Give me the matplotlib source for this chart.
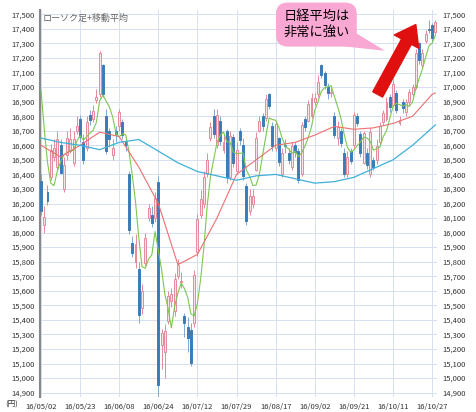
import numpy as np
import matplotlib.pyplot as plt
from matplotlib.patches import Rectangle, Polygon

plt.rcParams['font.family'] = ['Noto Sans CJK JP', 'DejaVu Sans']

tick_labels = ['16/05/02', '16/05/23', '16/06/08', '16/06/24', '16/07/12', '16/07/29',
               '16/08/17', '16/09/02', '16/09/21', '16/10/11', '16/10/27']

prior_close = [17440, 17353, 17290, 16666]

opens = [16357, 16050, 16280, 16380, 16520, 16450, 16600, 16300, 16530, 16560,
         16480, 16700, 16780, 16620, 16580, 16810, 16780, 16910, 16950, 17150,
         16800, 16700, 16530, 16700, 16730, 16760, 16620, 16400, 15930, 15800,
         15750, 15480, 15790, 16100, 16120, 16100, 16350, 15230, 15180, 15390,
         15530, 15460, 15700, 15660, 15430, 15350, 15330, 15380, 15870, 16120,
         16200, 16400, 16650, 16800, 16600, 16770, 16570, 16700, 16380, 16660,
         16420, 16700, 16600, 16320, 16150, 16200, 16430, 16700, 16800, 16790,
         16950, 16730, 16580, 16650, 16400, 16600, 16550, 16450, 16600, 16560,
         16400, 16780, 16770, 16800, 16900, 16950, 17150, 17100, 17000, 16960,
         16800, 16650, 16700, 16550, 16400, 16560, 16600, 16800, 16680, 16480,
         16550, 16400, 16500, 16500, 16620, 16760, 16780, 16930, 16880, 16960,
         16750, 16900, 16830, 16900, 16950, 17000, 17300, 17150, 17320, 17400,
         17430, 17380]
closes = [16147, 16106, 16216, 16565, 16579, 16646, 16412, 16466, 16652, 16644,
          16646, 16736, 16654, 16498, 16757, 16772, 16834, 16931, 17234, 16955,
          16562, 16642, 16580, 16675, 16830, 16668, 16601, 16019, 15859, 15919,
          15434, 15599, 15965, 16169, 16065, 16238, 14952, 15309, 15323, 15566,
          15575, 15682, 15775, 15669, 15378, 15276, 15106, 15708, 16095, 16231,
          16385, 16497, 16723, 16681, 16810, 16627, 16620, 16383, 16664, 16476,
          16569, 16635, 16391, 16083, 16254, 16254, 16650, 16764, 16735, 16919,
          16869, 16596, 16745, 16486, 16545, 16598, 16497, 16597, 16555, 16360,
          16737, 16725, 16887, 16926, 16925, 17037, 17081, 17012, 16958, 16965,
          16672, 16729, 16614, 16405, 16519, 16492, 16807, 16754, 16544, 16683,
          16465, 16693, 16449, 16598, 16735, 16819, 16899, 16860, 17024, 16840,
          16774, 16856, 16900, 16963, 16998, 17235, 17184, 17234, 17365, 17391,
          17336, 17446]
highs = [16400, 16180, 16330, 16610, 16640, 16700, 16640, 16520, 16700, 16720,
         16700, 16800, 16810, 16680, 16800, 16840, 16880, 16990, 17250, 17160,
         16850, 16720, 16640, 16730, 16850, 16780, 16660, 16420, 15980, 15990,
         15800, 15650, 16000, 16200, 16180, 16280, 16390, 15340, 15370, 15600,
         15620, 15720, 15820, 15730, 15450, 15420, 15380, 15740, 16130, 16290,
         16420, 16550, 16760, 16850, 16850, 16800, 16680, 16710, 16700, 16680,
         16620, 16720, 16650, 16340, 16300, 16300, 16690, 16800, 16820, 16950,
         16960, 16760, 16770, 16660, 16580, 16640, 16580, 16620, 16620, 16580,
         16760, 16800, 16910, 16960, 16960, 17080, 17160, 17110, 17030, 17000,
         16830, 16770, 16720, 16580, 16560, 16580, 16830, 16820, 16700, 16700,
         16580, 16720, 16520, 16640, 16760, 16840, 16930, 16950, 17050, 16980,
         16800, 16920, 16920, 16990, 17020, 17260, 17310, 17260, 17390, 17460,
         17440, 17460]
lows = [16120, 16000, 16190, 16360, 16490, 16420, 16400, 16280, 16500, 16550,
        16460, 16680, 16620, 16470, 16560, 16740, 16760, 16890, 16930, 16930,
        16540, 16590, 16500, 16620, 16700, 16640, 16560, 15990, 15830, 15760,
        15380, 15440, 15770, 16080, 16040, 16070, 14864, 15060, 15000, 15370,
        15490, 15430, 15680, 15620, 15280, 15180, 15080, 15350, 15840, 16100,
        16170, 16380, 16630, 16650, 16580, 16600, 16550, 16340, 16360, 16450,
        16400, 16600, 16360, 16050, 16120, 16170, 16420, 16690, 16700, 16770,
        16850, 16560, 16560, 16460, 16380, 16550, 16470, 16430, 16520, 16340,
        16390, 16700, 16760, 16790, 16880, 16930, 17060, 16990, 16920, 16930,
        16650, 16600, 16590, 16380, 16380, 16470, 16580, 16730, 16520, 16470,
        16440, 16380, 16430, 16470, 16600, 16740, 16770, 16830, 16860, 16820,
        16740, 16820, 16800, 16880, 16940, 16990, 17160, 17130, 17300, 17370,
        17310, 17360]

# 25-day (red) and 75-day (blue) averages read every 6 sessions
ma_idx = [0, 6, 12, 18, 24, 30, 36, 42, 48, 54, 60, 66, 72, 78, 84, 90, 96, 102, 108, 114, 120, 121]
ma25 = [16600, 16520, 16600, 16690, 16660, 16450, 16200, 15780, 15850, 16100, 16400,
        16500, 16600, 16620, 16670, 16730, 16710, 16720, 16750, 16800, 16950, 16960]
ma75 = [16650, 16620, 16600, 16570, 16620, 16640, 16560, 16480, 16420, 16390, 16360,
        16390, 16400, 16370, 16340, 16350, 16380, 16440, 16500, 16600, 16720, 16740]

fig = plt.figure(figsize=(4.76, 4.12), dpi=100)
ax = fig.add_axes([40 / 476, 15 / 412, 397 / 476, 387 / 412])
ax.set_xlim(-0.3, 121.5)
ax.set_ylim(14870, 17530)

up_edge, up_face, down_col = '#e58a9c', '#fbe3e8', '#3b7cb8'
w = 0.6
for i, (o, h, l, c) in enumerate(zip(opens, highs, lows, closes)):
    if c >= o:
        ax.vlines(i, l, h, color=up_edge, lw=0.7, zorder=3)
        ax.add_patch(Rectangle((i - w / 2, o), w, c - o, facecolor=up_face,
                               edgecolor=up_edge, lw=0.7, zorder=4))
    else:
        ax.vlines(i, l, h, color='#7fa9d4', lw=0.7, zorder=3)
        ax.add_patch(Rectangle((i - w / 2, c), w, o - c, facecolor=down_col,
                               edgecolor=down_col, lw=0.7, zorder=4))

allc = np.array(prior_close + closes, dtype=float)
ma5 = np.convolve(allc, np.ones(5) / 5, mode='valid')
ax.plot(np.arange(len(closes)), ma5, color='#7cc850', lw=0.8, zorder=5)
ax.plot(ma_idx, ma25, color='#ee7070', lw=0.8, zorder=5)
ax.plot(ma_idx, ma75, color='#3fb0d8', lw=0.9, zorder=5)

ax.set_yticks(np.arange(14900, 17501, 100))
ax.set_yticklabels([f'{v:,}' for v in range(14900, 17501, 100)])
ax.set_xticks(np.arange(0, 121, 12))
ax.set_xticklabels(tick_labels)
ax.tick_params(labelsize=5.5, length=0, colors='#333333', labelright=True, pad=4)
ax.grid(True, color='#d6e0f0', lw=0.7)
ax.set_axisbelow(True)
for s in ['top', 'right', 'bottom']:
    ax.spines[s].set_visible(False)
ax.spines['left'].set_color('#888888')
ax.spines['left'].set_linewidth(1.5)

ax.text(0.5, 17470, 'ローソク足+移動平均', fontsize=6.5, color='#666666', va='center')
fig.text(5 / 476, 1 - 405 / 412, '(円)', fontsize=5.5, va='center', color='#333333')

# red arrow
ax.annotate('', xy=(115, 17430), xytext=(103.3, 16950),
            arrowprops=dict(facecolor='#e01010', edgecolor='#e01010',
                            width=8, headwidth=20, headlength=14), zorder=8)
# callout
ax.add_patch(Polygon([(93, 17280), (96, 17380), (105.5, 17250)], closed=True,
                     facecolor='#f9a8d4', edgecolor='none', zorder=8))
ax.text(84.5, 17430, '日経平均は\n非常に強い', fontsize=9.5, ha='center', va='center',
        linespacing=1.35, zorder=9,
        bbox=dict(boxstyle='round,pad=0.55,rounding_size=0.9', facecolor='#f9a8d4',
                  edgecolor='none'))

fig.savefig('out.png', dpi=100)
